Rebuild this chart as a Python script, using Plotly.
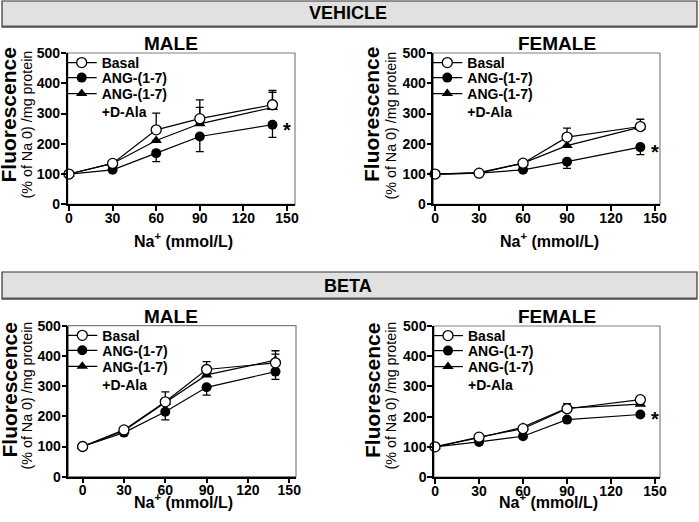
import plotly.graph_objects as go

W, H = 699, 522
FONT = "Liberation Sans, Arial, Helvetica, sans-serif"

# ---------------- data ----------------
na = [0, 30, 60, 90, 140]
x_ticks = [0, 30, 60, 90, 120, 150]
y_ticks = [0, 100, 200, 300, 400, 500]
series_names = ["Basal", "ANG-(1-7)", "ANG-(1-7)<br>+D-Ala"]
panel_titles = ["MALE", "FEMALE", "MALE", "FEMALE"]
group_titles = ["VEHICLE", "BETA"]

veh_m_basal = [100, 135, 246, 283, 329]
veh_m_basal_err = [0, 4, 55, 62, 47]
veh_m_ang = [100, 114, 169, 224, 263]
veh_m_ang_err = [0, 4, 28, 50, 42]
veh_m_dala = [100, 135, 211, 266, 320]
veh_m_dala_err = [0, 0, 0, 54, 50]

veh_f_basal = [100, 103, 136, 222, 257]
veh_f_basal_err = [0, 0, 4, 30, 24]
veh_f_ang = [100, 103, 114, 141, 189]
veh_f_ang_err = [0, 0, 4, 22, 25]
veh_f_dala = [100, 105, 136, 194, 255]
veh_f_dala_err = [0, 0, 0, 0, 0]

beta_m_basal = [100, 155, 248, 355, 377]
beta_m_basal_err = [0, 4, 33, 26, 40]
beta_m_ang = [100, 146, 215, 296, 348]
beta_m_ang_err = [0, 4, 27, 26, 26]
beta_m_dala = [100, 152, 246, 337, 386]
beta_m_dala_err = [0, 0, 0, 0, 20]

beta_f_basal = [100, 132, 160, 226, 256]
beta_f_basal_err = [0, 4, 8, 17, 10]
beta_f_ang = [100, 116, 135, 190, 207]
beta_f_ang_err = [0, 4, 4, 4, 4]
beta_f_dala = [100, 130, 165, 228, 241]
beta_f_dala_err = [0, 0, 0, 0, 0]

significant = [True, True, False, True]

panels = [
    (veh_m_basal, veh_m_basal_err, veh_m_ang, veh_m_ang_err, veh_m_dala, veh_m_dala_err),
    (veh_f_basal, veh_f_basal_err, veh_f_ang, veh_f_ang_err, veh_f_dala, veh_f_dala_err),
    (beta_m_basal, beta_m_basal_err, beta_m_ang, beta_m_ang_err, beta_m_dala, beta_m_dala_err),
    (beta_f_basal, beta_f_basal_err, beta_f_ang, beta_f_ang_err, beta_f_dala, beta_f_dala_err),
]

# ---------------- layout geometry (pixels) ----------------
def px(x):
    return x / W

def py(y):
    return 1 - y / H

# plot boxes: left, right, top, bottom (px) and x range
boxes = [
    (67.7, 295, 53, 204.3, [-0.9, 155.5]),
    (433.3, 660, 53, 204.3, [-1.2, 153.4]),
    (68.3, 296, 325.7, 476.7, [-10.4, 154.9]),
    (434, 660, 326, 477, [-0.7, 153.4]),
]
# legend row centres, px below plot top
legend_rows = [9, 24, 40]

fig = go.Figure()
layout = dict(
    template="none",
    width=W, height=H, margin=dict(l=0, r=0, t=0, b=0, pad=0, autoexpand=False),
    paper_bgcolor="white", plot_bgcolor="white",
    font=dict(family=FONT, color="black"),
    showlegend=True,
)
shapes = []
annotations = []

axis_common = dict(
    showgrid=False, zeroline=False, showline=True, linecolor="black", linewidth=1.5,
    ticks="outside", ticklen=5, tickwidth=1.5, tickcolor="black", automargin=False,
    tickfont=dict(family=FONT, size=14, color="black", weight="bold"),
)

for i, (l, r, t, b, xr) in enumerate(boxes):
    k = "" if i == 0 else str(i + 1)
    layout["xaxis" + k] = dict(axis_common, domain=[px(l), px(r)], range=xr,
                               tickvals=x_ticks, anchor="y" + k, ticklabelstandoff=-5)
    layout["yaxis" + k] = dict(axis_common, domain=[py(b), py(t)], range=[0, 500],
                               tickvals=y_ticks, anchor="x" + k, ticklabelstandoff=-2)
    # light frame (top/right)
    shapes.append(dict(type="rect", xref="x%s domain" % k, yref="y%s domain" % k,
                       x0=0, x1=1, y0=0, y1=1, line=dict(color="#808080", width=1.2),
                       layer="below"))
    legs = []
    for j in range(3):
        n = i * 3 + j + 1
        leg = "legend" if n == 1 else "legend%d" % n
        legs.append(leg)
        layout[leg] = dict(x=px(l - 6), y=py(t + legend_rows[j] - 15), xanchor="left", yanchor="top",
                           bgcolor="rgba(0,0,0,0)", borderwidth=0, tracegroupgap=0,
                           itemwidth=30, valign="top",
                           font=dict(family=FONT, size=14, color="black", weight="bold"))

    basal, basal_e, ang, ang_e, dala, dala_e = panels[i]
    xa, ya = "x" + k, "y" + k
    line = dict(color="black", width=1.2)
    # triangle
    fig.add_trace(go.Scatter(
        x=na, y=dala, mode="lines+markers", name=series_names[2], legend=legs[2],
        line=line, marker=dict(symbol="triangle-up", size=10, color="black"),
        error_y=dict(type="data", array=dala_e, arrayminus=[0] * len(dala_e), symmetric=False,
                     color="black", thickness=1.3, width=4),
        xaxis=xa, yaxis=ya, cliponaxis=False))
    # ANG filled
    fig.add_trace(go.Scatter(
        x=na, y=ang, mode="lines+markers", name=series_names[1], legend=legs[1],
        line=line, marker=dict(symbol="circle", size=10, color="black"),
        error_y=dict(type="data", array=[0] * len(ang_e), arrayminus=ang_e, symmetric=False,
                     color="black", thickness=1.3, width=4),
        xaxis=xa, yaxis=ya, cliponaxis=False))
    # Basal open
    fig.add_trace(go.Scatter(
        x=na, y=basal, mode="lines+markers", name=series_names[0], legend=legs[0],
        line=line, marker=dict(symbol="circle", size=10, color="white",
                                line=dict(color="black", width=1.3)),
        error_y=dict(type="data", array=basal_e, arrayminus=[0] * len(basal_e), symmetric=False,
                     color="black", thickness=1.3, width=4),
        xaxis=xa, yaxis=ya, cliponaxis=False))

    if significant[i]:
        annotations.append(dict(x=150, y=ang[-1], xref=xa, yref=ya, text="<b>*</b>",
                                showarrow=False, yshift=-5,
                                font=dict(family=FONT, size=20, color="black")))

# panel titles
title_pos = [(171, 43), (557, 43), (171, 316.5), (557, 316.5)]
for (cx, cy), txt in zip(title_pos, panel_titles):
    annotations.append(dict(x=px(cx), y=py(cy), xref="paper", yref="paper", text="<b>%s</b>" % txt,
                            showarrow=False, xanchor="center", yanchor="middle",
                            font=dict(family=FONT, size=19, color="black")))

# y-axis titles
ytitle_pos = [(8.5, 115, 26.5, 125), (372, 115, 390.5, 126), (8.5, 390, 26.5, 396), (372, 391, 390.5, 396)]
for x1, y1, x2, y2 in ytitle_pos:
    annotations.append(dict(x=px(x1), y=py(y1), xref="paper", yref="paper", text="<b>Fluorescence</b>",
                            textangle=-90, showarrow=False, xanchor="center", yanchor="middle",
                            font=dict(family=FONT, size=21, color="black")))
    annotations.append(dict(x=px(x2), y=py(y2), xref="paper", yref="paper",
                            text="(% of Na 0) /mg protein",
                            textangle=-90, showarrow=False, xanchor="center", yanchor="middle",
                            font=dict(family=FONT, size=14.3, color="black")))

# x-axis titles
xtitle_pos = [(183, 240), (549, 240), (183, 501), (548, 501)]
for cx, cy in xtitle_pos:
    annotations.append(dict(x=px(cx), y=py(cy), xref="paper", yref="paper",
                            text="<b>Na<sup>+</sup> (mmol/L)</b>",
                            showarrow=False, xanchor="center", yanchor="middle",
                            font=dict(family=FONT, size=16, color="black")))

# group banners
banner_pos = [(1, 27, 13.5), (272, 299, 285.5)]
for (t, b, cy), txt in zip(banner_pos, group_titles):
    shapes.append(dict(type="rect", xref="paper", yref="paper", x0=px(2), x1=px(697),
                       y0=py(b), y1=py(t), fillcolor="#e1e1e1",
                       line=dict(color="#333333", width=1.2), layer="below"))
    shapes.append(dict(type="line", xref="paper", yref="paper", x0=px(2), x1=px(697),
                       y0=py(b - 0.5), y1=py(b - 0.5),
                       line=dict(color="#555555", width=2), layer="below"))
    annotations.append(dict(x=px(348), y=py(cy), xref="paper", yref="paper", text="<b>%s</b>" % txt,
                            showarrow=False, xanchor="center", yanchor="middle",
                            font=dict(family=FONT, size=18, color="black")))

layout["shapes"] = shapes
layout["annotations"] = annotations
fig.update_layout(**layout)
fig.write_html("out.html", config={"displayModeBar": False},
               post_script="document.body.style.margin='0';document.body.style.padding='0';")
